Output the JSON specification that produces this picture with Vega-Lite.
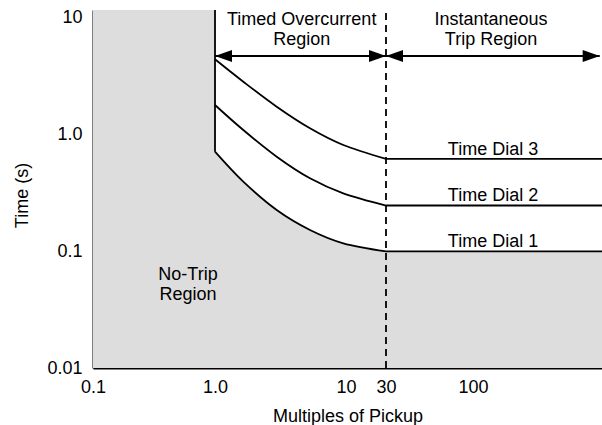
{
  "$schema": "https://vega.github.io/schema/vega-lite/v6.json",
  "width": 509,
  "height": 358,
  "autosize": {"type": "none"},
  "padding": {"left": 93, "top": 10, "right": 0, "bottom": 57},
  "background": "white",
  "config": {
    "view": {"stroke": null},
    "font": "Liberation Sans",
    "axis": {
      "domainColor": "#000000",
      "domainWidth": 2,
      "ticks": false,
      "tickSize": 0,
      "grid": false,
      "labelFont": "Liberation Sans",
      "labelFontSize": 18,
      "labelColor": "#000000",
      "titleFont": "Liberation Sans",
      "titleFontSize": 18,
      "titleFontWeight": "normal",
      "titleColor": "#000000",
      "zindex": 1
    }
  },
  "datasets": {
    "grayRects": [
      {"x": 0.1, "x2": 1, "y": 0.01, "y2": 11.71},
      {"x": 30, "x2": 1000, "y": 0.01, "y2": 0.1}
    ],
    "curves": [
      {"dial": "Time Dial 1", "x": 1, "y": 0.7145},
      {"dial": "Time Dial 1", "x": 1.644, "y": 0.3953},
      {"dial": "Time Dial 1", "x": 2.958, "y": 0.226},
      {"dial": "Time Dial 1", "x": 5.31, "y": 0.1524},
      {"dial": "Time Dial 1", "x": 9.54, "y": 0.1172},
      {"dial": "Time Dial 1", "x": 30, "y": 0.1},
      {"dial": "Time Dial 2", "x": 1, "y": 1.796},
      {"dial": "Time Dial 2", "x": 1.644, "y": 1.096},
      {"dial": "Time Dial 2", "x": 2.958, "y": 0.6475},
      {"dial": "Time Dial 2", "x": 5.31, "y": 0.4227},
      {"dial": "Time Dial 2", "x": 9.54, "y": 0.3144},
      {"dial": "Time Dial 2", "x": 30, "y": 0.247},
      {"dial": "Time Dial 3", "x": 1, "y": 4.425},
      {"dial": "Time Dial 3", "x": 1.644, "y": 2.843},
      {"dial": "Time Dial 3", "x": 2.958, "y": 1.736},
      {"dial": "Time Dial 3", "x": 5.31, "y": 1.134},
      {"dial": "Time Dial 3", "x": 9.54, "y": 0.815},
      {"dial": "Time Dial 3", "x": 30, "y": 0.619}
    ],
    "flats": [
      {"dial": "Time Dial 1", "x": 30, "x2": 1000, "y": 0.1},
      {"dial": "Time Dial 2", "x": 30, "x2": 1000, "y": 0.247},
      {"dial": "Time Dial 3", "x": 30, "x2": 1000, "y": 0.619}
    ],
    "pickup": [{"x": 1, "y": 0.7145, "y2": 11.71}],
    "boundary": [{"x": 30, "y": 0.01, "y2": 11.71}],
    "arrows": [
      {"x": 1, "x2": 30, "y": 4.72},
      {"x": 30, "x2": 960, "y": 4.72}
    ],
    "heads": [
      {"x": 1, "y": 4.72, "dir": "left"},
      {"x": 30, "y": 4.72, "dir": "right"},
      {"x": 30, "y": 4.72, "dir": "left"},
      {"x": 960, "y": 4.72, "dir": "right"}
    ],
    "labels": [
      {"x": 4.59, "y": 8.71, "label": "Timed Overcurrent\nRegion"},
      {"x": 137.9, "y": 8.71, "label": "Instantaneous\nTrip Region"},
      {"x": 0.601, "y": 0.0568, "label": "No-Trip\nRegion"},
      {"x": 142.9, "y": 0.6694, "label": "Time Dial 3"},
      {"x": 142.9, "y": 0.27, "label": "Time Dial 2"},
      {"x": 142.9, "y": 0.1089, "label": "Time Dial 1"}
    ]
  },
  "encoding": {
    "x": {
      "field": "x",
      "type": "quantitative",
      "scale": {"type": "log", "domain": [0.1, 1, 10, 30, 100, 1000], "range": [0, 122, 253, 293, 380, 509], "nice": false},
      "axis": {
        "title": "Multiples of Pickup",
        "values": [0.1, 1, 10, 30, 100],
        "labelExpr": "datum.value < 0.5 ? '0.1' : datum.value < 5 ? '1.0' : datum.value < 20 ? '10' : datum.value < 50 ? '30' : '100'",
        "labelPadding": 10,
        "labelFlush": false,
        "labelOverlap": false,
        "titleY": 39,
        "titleBaseline": "top"
      }
    },
    "y": {
      "field": "y",
      "type": "quantitative",
      "scale": {"type": "log", "domain": [0.01, 11.71], "nice": false},
      "axis": {
        "title": "Time (s)",
        "values": [0.01, 0.1, 1, 10],
        "labelExpr": "datum.value < 0.05 ? '0.01' : datum.value < 0.5 ? '0.1' : datum.value < 5 ? '1.0' : '10'",
        "labelPadding": 11,
        "labelFlush": false,
        "labelOverlap": false,
        "titleX": -65.5,
        "titleY": 185,
        "titleAngle": -90,
        "titleBaseline": "alphabetic"
      }
    }
  },
  "layer": [
    {
      "data": {"name": "grayRects"},
      "mark": {"type": "rect", "color": "#dddddd"},
      "encoding": {"x2": {"field": "x2"}, "y2": {"field": "y2"}}
    },
    {
      "data": {"name": "curves"},
      "transform": [{"filter": "datum.dial == 'Time Dial 1'"}],
      "mark": {"type": "area", "color": "#dddddd", "interpolate": "cardinal"},
      "encoding": {"y2": {"datum": 0.01}}
    },
    {
      "data": {"name": "boundary"},
      "mark": {"type": "rule", "color": "#000000", "strokeWidth": 1.8, "strokeDash": [7, 5]},
      "encoding": {"y2": {"field": "y2"}}
    },
    {
      "data": {"name": "curves"},
      "mark": {"type": "line", "color": "#000000", "strokeWidth": 1.8, "interpolate": "cardinal"},
      "encoding": {"detail": {"field": "dial"}}
    },
    {
      "data": {"name": "flats"},
      "mark": {"type": "rule", "color": "#000000", "strokeWidth": 1.8},
      "encoding": {"x2": {"field": "x2"}}
    },
    {
      "data": {"name": "pickup"},
      "mark": {"type": "rule", "color": "#000000", "strokeWidth": 1.8},
      "encoding": {"y2": {"field": "y2"}}
    },
    {
      "data": {"name": "arrows"},
      "mark": {"type": "rule", "color": "#000000", "strokeWidth": 2},
      "encoding": {"x2": {"field": "x2"}}
    },
    {
      "data": {"name": "heads"},
      "transform": [{"filter": "datum.dir == 'right'"}],
      "mark": {"type": "point", "shape": "M0,0L-2,-0.7L-2,0.7Z", "size": 289, "filled": true, "color": "#000000", "opacity": 1, "strokeWidth": 0}
    },
    {
      "data": {"name": "heads"},
      "transform": [{"filter": "datum.dir == 'left'"}],
      "mark": {"type": "point", "shape": "M0,0L2,-0.7L2,0.7Z", "size": 289, "filled": true, "color": "#000000", "opacity": 1, "strokeWidth": 0}
    },
    {
      "data": {"name": "labels"},
      "mark": {"type": "text", "font": "Liberation Sans", "fontSize": 18, "color": "#000000", "align": "center", "baseline": "alphabetic", "lineBreak": "\n", "lineHeight": 20.5},
      "encoding": {"text": {"field": "label"}}
    }
  ]
}
